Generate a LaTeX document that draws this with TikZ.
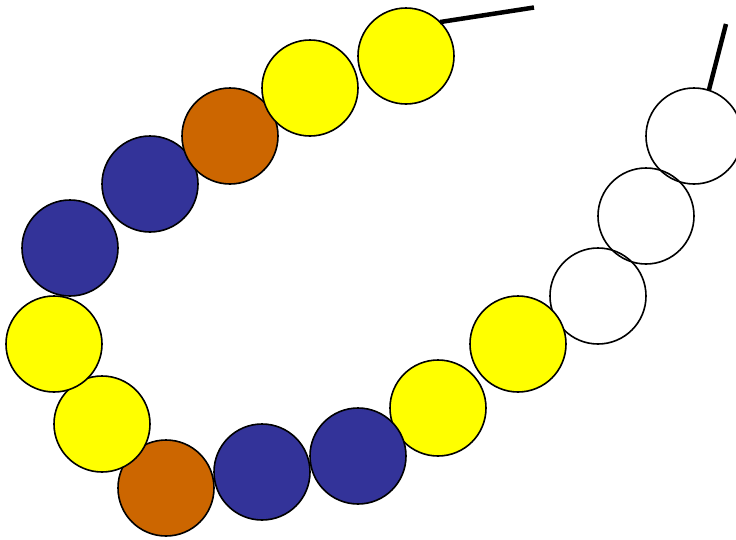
\documentclass[tikz,border=0pt]{standalone}
\usepackage{tikz}
\usetikzlibrary{positioning}
\definecolor{beadyellow}{HTML}{FFFF00}
\definecolor{beadorange}{HTML}{CC6600}
\definecolor{beadblue}{HTML}{333399}
\tikzset{
  bead/.style={circle, draw=black, line width=1.6pt, minimum size=96pt,
               inner sep=0pt, outer sep=0pt},
  ybead/.style={bead, fill=beadyellow},
  obead/.style={bead, fill=beadorange},
  bbead/.style={bead, fill=beadblue},
  wbead/.style={bead},
  thread/.style={line width=4.5pt, line cap=butt},
}
\begin{document}
\begin{tikzpicture}[x=1pt, y=-1pt]
\useasboundingbox (0,0) rectangle (736,539);
% empty end of the string
\node[wbead] (b15) at (694,136) {};
\node[wbead] (b14) at (646,216) {};
\node[wbead] (b13) at (598,296) {};
% threaded beads, back to front
\node[ybead] (b12) at (518,344) {};
\node[ybead] (b11) at (438,408) {};
\node[bbead] (b10) at (358,456) {};
\node[bbead] (b9) at (262,472) {};
\node[obead] (b8) at (166,488) {};
\node[ybead] (b7) at (102,424) {};
\node[ybead] (b6) at (54,344) {};
\node[bbead] (b5) at (70,248) {};
\node[bbead] (b4) at (150,184) {};
\node[obead] (b3) at (230,136) {};
\node[ybead] (b2) at (310,88) {};
\node[ybead] (b1) at (406,56) {};
% loose thread ends
\coordinate (t1) at (534,7.5);
\coordinate (t2) at (726,24);
\draw[thread] (b1.45) -- (t1);
\draw[thread] (b15.72) -- (t2);
\end{tikzpicture}
\end{document}
